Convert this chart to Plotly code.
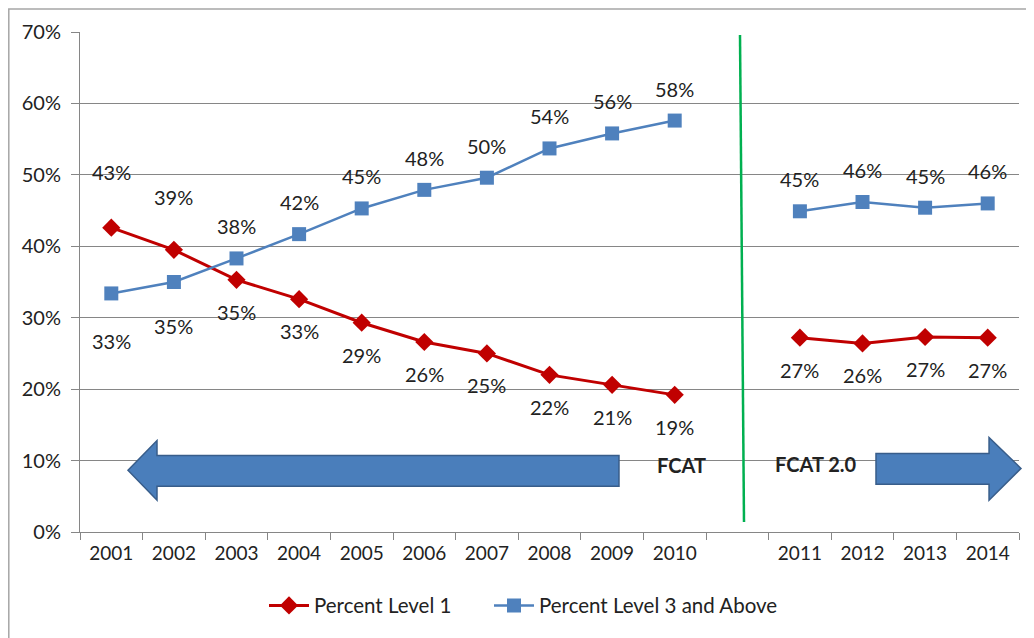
import plotly.graph_objects as go

years = ["2001", "2002", "2003", "2004", "2005", "2006", "2007", "2008", "2009", "2010",
         " ", "2011", "2012", "2013", "2014"]
level1 = [0.426, 0.395, 0.353, 0.326, 0.293, 0.266, 0.250, 0.220, 0.206, 0.192,
          None, 0.272, 0.264, 0.273, 0.272]
level3_up = [0.334, 0.350, 0.383, 0.417, 0.453, 0.479, 0.496, 0.537, 0.558, 0.576,
             None, 0.449, 0.462, 0.454, 0.460]
label_l1 = ["43%", "39%", "35%", "33%", "29%", "26%", "25%", "22%", "21%", "19%",
            None, "27%", "26%", "27%", "27%"]
label_l3 = ["33%", "35%", "38%", "42%", "45%", "48%", "50%", "54%", "56%", "58%",
            None, "45%", "46%", "45%", "46%"]

RED = "#C00000"
BLUE = "#4F81BD"
FONT = "Lato, 'Open Sans', sans-serif"

# page body has an 8px margin, so the figure starts at (8, 8) in the window
OFF = 8
W, H = 1034 - OFF, 638 - OFF
# plot area in window pixels: x 80..1019, y 32 (70%) .. 535 (0%)
L, R, T, B = 80, 1019, 32, 535


def px(x):
    return (x - L) / (R - L)


def py(y):
    return (B - y) / (B - T)


fig = go.Figure()
fig.add_trace(go.Scatter(
    x=years, y=level1, name="Percent Level 1", mode="lines+markers",
    line=dict(color=RED, width=3), connectgaps=False,
    marker=dict(symbol="diamond", size=14, color=RED), legend="legend",
))
fig.add_trace(go.Scatter(
    x=years, y=level3_up, name="Percent Level 3 and Above", mode="lines+markers",
    line=dict(color=BLUE, width=2.5), connectgaps=False,
    marker=dict(symbol="square", size=14, color=BLUE), legend="legend2",
))

# data labels (Excel-style, moved by hand in the original)
special = {("l1", 0): 56, ("l1", 1): 53, ("l3", 0): -48, ("l3", 1): -44}
annots = []
for i, yr in enumerate(years):
    if level1[i] is None:
        continue
    for key, vals, other, labels in (("l1", level1, level3_up, label_l1),
                                     ("l3", level3_up, level1, label_l3)):
        shift = 32 if vals[i] > other[i] else -32
        shift = special.get((key, i), shift)
        # category axis: position annotations by category index
        annots.append(dict(x=i, y=vals[i], text=labels[i], showarrow=False,
                           yshift=shift, xref="x", yref="y",
                           xanchor="center", yanchor="middle",
                           font=dict(size=20, color="#222", family=FONT)))

for txt, cx, cy in (("<b>FCAT</b>", 681, 468), ("<b>FCAT 2.0</b>", 816, 467)):
    annots.append(dict(x=px(cx), y=py(cy), xref="paper", yref="paper", text=txt,
                       xanchor="center", yanchor="middle", showarrow=False,
                       font=dict(size=20, color="#222", family=FONT)))


def path(points):
    return "M " + " L ".join(f"{px(a):.4f},{py(b):.4f}" for a, b in points) + " Z"


left_arrow = [(128, 473), (157, 443), (157, 458), (619, 458), (619, 489),
              (157, 489), (157, 503)]
right_arrow = [(876, 456), (989, 456), (989, 440), (1021, 471), (989, 503),
               (989, 487), (876, 487)]

shapes = [
    dict(type="path", xref="paper", yref="paper", path=path(left_arrow),
         fillcolor="#4A7EBB", line=dict(color="#385D8A", width=1.5)),
    dict(type="path", xref="paper", yref="paper", path=path(right_arrow),
         fillcolor="#4A7EBB", line=dict(color="#385D8A", width=1.5)),
    dict(type="line", xref="paper", yref="paper", x0=px(740), y0=py(35), x1=px(744), y1=py(525),
         line=dict(color="#00B050", width=2.5)),
    dict(type="rect", xref="paper", yref="paper", x0=px(8.8), y0=py(8.8), x1=px(1032), y1=py(645),
         line=dict(color="#A6A6A6", width=1.5), layer="below"),
]

legend_style = dict(orientation="h", xanchor="left", y=py(609), yanchor="middle",
                    font=dict(size=20.5, family=FONT), itemwidth=40)

fig.update_layout(
    width=W, height=H,
    margin=dict(l=L - OFF, r=1034 - R, t=T - OFF, b=638 - B),
    paper_bgcolor="white", plot_bgcolor="white",
    font=dict(family=FONT, size=20, color="#222"),
    showlegend=True,
    legend=dict(x=px(264), **legend_style),
    legend2=dict(x=px(489), **legend_style),
    annotations=annots,
    shapes=shapes,
    xaxis=dict(type="category", categoryorder="array", categoryarray=years,
               range=[-0.5, len(years) - 0.5], autorange=False,
               tickson="boundaries", ticks="outside", ticklen=7, tickcolor="#868686",
               showline=True, linecolor="#868686", linewidth=1, showgrid=False,
               tickfont=dict(size=19, family=FONT), ticklabelstandoff=4, tickangle=0),
    yaxis=dict(range=[0, 0.7], dtick=0.1, tickformat=".0%", showgrid=True,
               gridcolor="#868686", gridwidth=1, zeroline=False,
               showline=True, linecolor="#868686", linewidth=1,
               ticks="outside", ticklen=8, tickcolor="#868686",
               tickfont=dict(size=20, family=FONT), ticklabelstandoff=6),
)

fig.write_html("out.html")
